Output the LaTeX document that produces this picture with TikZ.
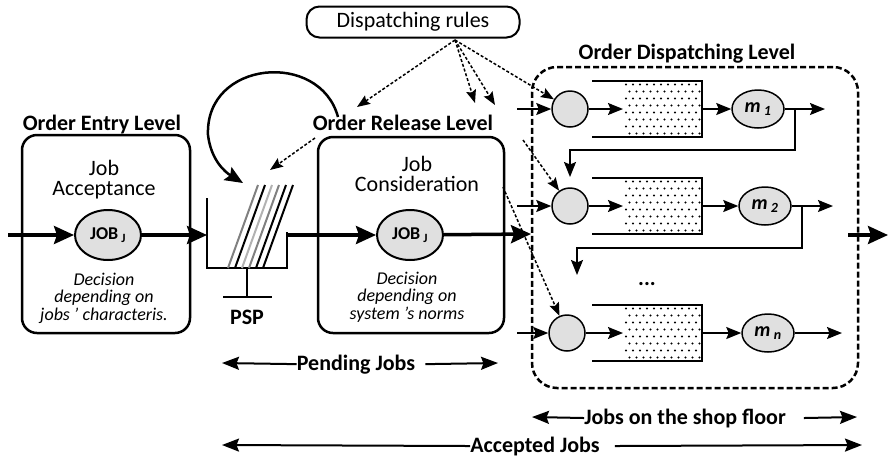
\documentclass[tikz,border=0pt]{standalone}
\usepackage{fontspec}
\setmainfont{Carlito}
\usetikzlibrary{arrows.meta,shapes.geometric}
\begin{document}
\begin{tikzpicture}[x=1pt,y=-1pt,
 big/.style={font=\fontsize{22}{20}\selectfont,align=center},
 title/.style={font=\fontsize{22}{24}\selectfont\bfseries,anchor=base},
 note/.style={font=\fontsize{18}{17.5}\selectfont\itshape,align=center},
 job/.style={ellipse,draw,line width=2pt,fill=black!12,minimum width=66pt,minimum height=50pt,inner sep=0pt,font=\fontsize{18}{20}\selectfont\bfseries},
 disp/.style={circle,draw,line width=1.5pt,fill=black!12,minimum size=36pt,inner sep=0pt},
 mach/.style={ellipse,draw,line width=1.5pt,fill=black!12,minimum width=52pt,minimum height=38pt,inner sep=0pt,font=\fontsize{20}{22}\selectfont\bfseries\itshape},
 level/.style={draw,line width=2.5pt,rounded corners=15pt,minimum width=186pt,minimum height=196pt},
 flow/.style={line width=3.5pt,-{Stealth[length=20pt,width=18pt,inset=3pt]}},
 small/.style={line width=1.5pt,-{Stealth[length=15pt,width=12pt,inset=2.5pt]}},
 span/.style={line width=2pt,-{Stealth[length=17pt,width=13pt,inset=2.5pt]}},
 rule/.style={line width=1.5pt,dash pattern=on 3pt off 2pt,-{Stealth[length=13pt,width=10pt,inset=2pt]}}]
\useasboundingbox (0,0) rectangle (889,459);
\node[level,minimum width=168pt,minimum height=198pt] (entry) at (106,234) {};
\node[title] (entrytitle) at (102,130) {Order Entry Level};
\node[big] (accept) at (104,180) {Job\\Acceptance};
\node[job] (job1) at (108,235) {JOB\,\textsubscript{J}};
\node[note] (dec1) at (104,298) {Decision\\depending on\\jobs ’ characteris.};
\coordinate (in) at (8,235);
\coordinate (pspin) at (207,235);
\draw[flow] (in) -- (job1);
\draw[flow] (job1) -- (pspin);
\draw[line width=2.5pt] (207,198) |- (287,268) -- (287,232);
\foreach \i/\c in {0/gray,1/black,2/black!30,3/gray,4/black,5/black}{\draw[\c,line width=2pt] (228+7*\i,268) -- (258+7*\i,185);}
\draw[line width=2.5pt] (247,268) -- (247,297) (223,297) -- (272,297);
\node[title] (psp) at (247,324) {PSP};
\node[level] (release) at (411,235) {};
\node[title] (reltitle) at (403,130) {Order Release Level};
\node[big] (consider) at (417,174) {Job\\Consideration};
\node[job] (job2) at (410,235) {JOB\,\textsubscript{J}};
\node[note] (dec2) at (407,297) {Decision\\depending on\\system ’s norms};
\coordinate (pspout) at (287,235);
\coordinate (odin) at (531,234);
\draw[flow] (pspout) -- (job2);
\draw[flow] (job2) -- (odin);
\node[draw,line width=2pt,rounded corners=13pt,minimum width=213pt,minimum height=31pt,big] (rules) at (413,22) {Dispatching rules};
\coordinate (loopa) at (338,117);
\coordinate (loopb) at (243,183);
\draw[line width=2.5pt,-{Stealth[length=18pt,width=15pt,inset=3pt]}] (loopa) .. controls (320,50) and (205,60) .. (208,135) .. controls (211,160) and (225,172) .. (loopb);
\node[draw,line width=2.5pt,dash pattern=on 6pt off 3pt,rounded corners=25pt,minimum width=326pt,minimum height=321pt] (shopbox) at (695,227.5) {};
\node[title] (odtitle) at (687,59) {Order Dispatching Level};
\foreach \r/\y/\dx/\mx/\ox/\lab in {1/109/570/758/825/1,2/206/570/765/833/2,3/333/567/768/842/n}{
 \node[disp] (d\r) at (\dx,\y) {};
 \foreach \a in {0,...,10}{\foreach \b in {0,...,7}{\fill ({626+7*\a+3.5*mod(\b,2)},{\y-24.5+7*\b}) circle (1.1pt);}}
 \draw[line width=1.5pt] (592,\y-28) -| (702,\y+28) -- (592,\y+28);
 \node[mach] (m\r) at (\mx,\y) {m\,\textsubscript{\lab}};
 \coordinate (din\r) at (517,\y);
 \coordinate (qin\r) at (623,\y);
 \coordinate (qout\r) at (702,\y);
 \coordinate (mout\r) at (\ox,\y);
 \draw[small] (din\r) -- (d\r);
 \draw[small] (d\r) -- (qin\r);
 \draw[small] (qout\r) -- (m\r);
 \draw[small] (m\r) -- (mout\r);
}
\coordinate (fb1) at (795,109);
\coordinate (fb1a) at (570,150);
\coordinate (fb1end) at (570,177);
\coordinate (fb2) at (802,206);
\coordinate (fb2a) at (577,248);
\coordinate (fb2end) at (577,275);
\draw[small] (fb1) |- (fb1a) -- (fb1end);
\draw[small] (fb2) |- (fb2a) -- (fb2end);
\node[title] (more) at (647,285) {...};
\coordinate (rb) at (455,40);
\coordinate (rt1) at (357,107);
\coordinate (rt2) at (475,103);
\coordinate (rt3) at (495,105);
\coordinate (relnote) at (315,138);
\coordinate (stripes) at (270,170);
\coordinate (r2) at (523,140);
\coordinate (r3) at (503,187);
\draw[rule] (rb) -- (rt1);
\draw[rule] (rb) -- (rt2);
\draw[rule] (rb) -- (rt3);
\draw[rule] (rb) -- (d1);
\draw[rule] (relnote) -- (stripes);
\draw[rule] (r2) -- (d2);
\draw[rule] (r3) -- (d3);
\coordinate (exa) at (848,235);
\coordinate (exb) at (888,235);
\draw[flow] (exa) -- (exb);
\node[title,inner sep=0pt] (pend) at (356,370) {Pending Jobs};
\node[title,inner sep=0pt] (floor) at (685,424) {Jobs on the shop floor};
\node[title,inner sep=0pt] (acc) at (535,452) {Accepted Jobs};
\coordinate (penda) at (222,363);
\coordinate (pendb) at (498,363);
\coordinate (floora) at (532,417);
\coordinate (floorb) at (857,417);
\coordinate (acca) at (222,445);
\coordinate (accb) at (862,445);
\draw[span] (pend.west) -- (penda);
\draw[span] ([xshift=10pt]pend.east) -- (pendb);
\draw[span] (floor.west) -- (floora);
\draw[span] ([xshift=18pt]floor.east) -- (floorb);
\draw[span] (acc.west) -- (acca);
\draw[span] ([xshift=15pt]acc.east) -- (accb);
\end{tikzpicture}
\end{document}
